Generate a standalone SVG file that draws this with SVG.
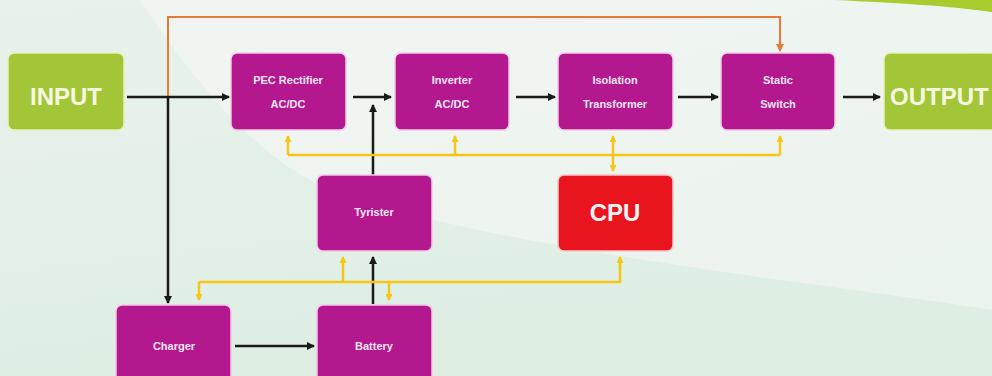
<svg xmlns="http://www.w3.org/2000/svg" width="992" height="376" viewBox="0 0 992 376">
<defs>
<linearGradient id="bg" x1="0" y1="0" x2="0.3" y2="1">
<stop offset="0" stop-color="#e8f2ec"/>
<stop offset="1" stop-color="#deeee3"/>
</linearGradient>
<linearGradient id="hl" x1="0" y1="0" x2="1" y2="1">
<stop offset="0" stop-color="#f1f5f2"/>
<stop offset="1" stop-color="#ebf3ee"/>
</linearGradient>
<marker id="ab" markerWidth="8" markerHeight="8" refX="7" refY="4" orient="auto" markerUnits="userSpaceOnUse">
<path d="M0,0 L8,4 L0,8 Z" fill="#1a1a1a"/>
</marker>
<marker id="ao" markerWidth="8" markerHeight="8" refX="7" refY="4" orient="auto" markerUnits="userSpaceOnUse">
<path d="M0,0 L8,4 L0,8 Z" fill="#e8773a"/>
</marker>
<marker id="ay" markerWidth="7" markerHeight="7" refX="6" refY="3.5" orient="auto" markerUnits="userSpaceOnUse">
<path d="M0,0 L7,3.5 L0,7 Z" fill="#f5c518"/>
</marker>
</defs>
<style>
.box{fill:#b3188e;stroke:#f4c8e6;stroke-width:1.5}
.cpu{fill:#e8151f;stroke:#f8c8c8;stroke-width:1.5}
.io{fill:#a2c637;stroke:#e6f2b8;stroke-width:1.5}
.t{font-family:"Liberation Sans",Arial,sans-serif;font-weight:bold;font-size:11px;fill:#fbe6f4;text-anchor:middle}
.big{font-family:"Liberation Sans",Arial,sans-serif;font-weight:bold;font-size:24px;fill:#f6f9e0;text-anchor:middle}
.bk{stroke:#1a1a1a;stroke-width:2.5;fill:none}
.or{stroke:#e8773a;stroke-width:2;fill:none}
.ye{stroke:#f5c518;stroke-width:2.5;fill:none}
</style>
<rect width="992" height="376" fill="url(#bg)"/>
<path d="M140,0 C200,90 260,160 330,190 C500,250 800,280 992,310 L992,0 Z" fill="url(#hl)"/>
<path d="M835,0 C900,3 950,6 992,12 L992,0 Z" fill="#a6cc2e"/>

<g id="connectors">
<path class="or" d="M168,97 V17 H780 V51" marker-end="url(#ao)"/>
<path class="bk" d="M127,97 H229" marker-end="url(#ab)"/>
<path class="bk" d="M168,97 V303" marker-end="url(#ab)"/>
<path class="bk" d="M353,97 H391" marker-end="url(#ab)"/>
<path class="bk" d="M373,175 V105" marker-end="url(#ab)"/>
<path class="bk" d="M516,97 H555" marker-end="url(#ab)"/>
<path class="bk" d="M678,97 H718" marker-end="url(#ab)"/>
<path class="bk" d="M843,97 H880" marker-end="url(#ab)"/>
<path class="bk" d="M373,304 V257" marker-end="url(#ab)"/>
<path class="bk" d="M235,346 H314" marker-end="url(#ab)"/>
<path class="ye" d="M288,155 H780"/>
<path class="ye" d="M288,155 V136" marker-end="url(#ay)"/>
<path class="ye" d="M455,155 V136" marker-end="url(#ay)"/>
<path class="ye" d="M613,155 V136" marker-end="url(#ay)"/>
<path class="ye" d="M780,155 V136" marker-end="url(#ay)"/>
<path class="ye" d="M613,155 V171" marker-end="url(#ay)"/>
<path class="ye" d="M199,282 H620 V257"/>
<path class="ye" d="M620,270 V257" marker-end="url(#ay)"/>
<path class="ye" d="M199,282 V300" marker-end="url(#ay)"/>
<path class="ye" d="M343,282 V257" marker-end="url(#ay)"/>
<path class="ye" d="M389,282 V300" marker-end="url(#ay)"/>
</g>

<g id="input"><rect class="io" x="8" y="53" width="116" height="77" rx="6"/><text class="big" x="66" y="105">INPUT</text></g>
<g id="rectifier"><rect class="box" x="231" y="53" width="115" height="77" rx="6"/><text class="t" x="288" y="84">PEC Rectifier</text><text class="t" x="288" y="108">AC/DC</text></g>
<g id="inverter"><rect class="box" x="395" y="53" width="114" height="77" rx="6"/><text class="t" x="452" y="84">Inverter</text><text class="t" x="452" y="108">AC/DC</text></g>
<g id="isolation"><rect class="box" x="558" y="53" width="115" height="77" rx="6"/><text class="t" x="615" y="84">Isolation</text><text class="t" x="615" y="108">Transformer</text></g>
<g id="static"><rect class="box" x="721" y="53" width="114" height="77" rx="6"/><text class="t" x="778" y="84">Static</text><text class="t" x="778" y="108">Switch</text></g>
<g id="output"><rect class="io" x="884" y="53" width="120" height="77" rx="6"/><text class="big" x="890" y="105" style="text-anchor:start">OUTPUT</text></g>
<g id="tyrister"><rect class="box" x="317" y="175" width="115" height="76" rx="6"/><text class="t" x="374" y="216">Tyrister</text></g>
<g id="cpu"><rect class="cpu" x="558" y="175" width="115" height="76" rx="6"/><text class="big" x="615" y="221" style="fill:#fff4f4">CPU</text></g>
<g id="charger"><rect class="box" x="116" y="305" width="115" height="80" rx="6"/><text class="t" x="174" y="350">Charger</text></g>
<g id="battery"><rect class="box" x="317" y="305" width="115" height="80" rx="6"/><text class="t" x="374" y="350">Battery</text></g>
</svg>
